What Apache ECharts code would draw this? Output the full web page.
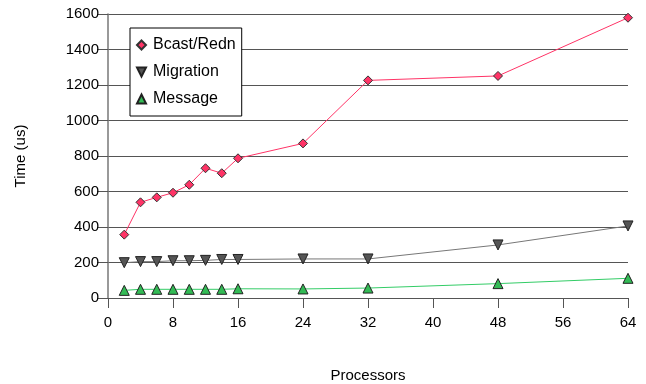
<!DOCTYPE html>
<html>
<head>
<meta charset="utf-8">
<script src="https://cdn.jsdelivr.net/npm/echarts@6/dist/echarts.min.js"></script>
<style>
  html, body { margin: 0; padding: 0; background: #fff; }
  #chart { width: 646px; height: 384px; }
</style>
</head>
<body>
<div id="chart"></div>
<script>
// processor counts
var processors = [2, 4, 6, 8, 10, 12, 14, 16, 24, 32, 48, 64];
var bcastRedn = [357, 539, 567, 593, 638, 731, 703, 787, 871, 1226, 1251, 1579];
var migration = [199, 205, 205, 210, 210, 212, 217, 217, 220, 220, 299, 406];
var message = [43, 49, 49, 49, 49, 49, 49, 52, 51, 56, 81, 111];

var downTri = 'path://M0,0 L10,0 L5,10 Z';

function pairs(ys) {
    return processors.map(function (x, i) { return [x, ys[i]]; });
}

var myChart = echarts.init(document.getElementById('chart'));
var font = 'Liberation Sans, Arial, sans-serif';

var option = {
    animation: false,
    textStyle: { fontFamily: font },
    grid: { left: 108, right: 18, top: 14, bottom: 86, outerBoundsMode: 'none', containLabel: false },
    legend: {
        orient: 'vertical',
        left: 130,
        top: 28,
        padding: [9, 6, 9, 6],
        itemGap: 11,
        itemWidth: 9,
        itemHeight: 9,
        borderColor: '#000',
        borderWidth: 1,
        backgroundColor: '#fff',
        textStyle: { fontSize: 16, color: '#000', fontFamily: font, padding: [0, 0, 0, 2] },
        data: [
            { name: 'Bcast/Redn', icon: 'diamond' },
            { name: 'Migration', icon: downTri },
            { name: 'Message', icon: 'triangle' }
        ]
    },
    xAxis: {
        type: 'value',
        min: 0,
        max: 64,
        interval: 8,
        name: 'Processors',
        nameLocation: 'middle',
        nameGap: 70,
        nameTextStyle: { fontSize: 15, color: '#000', fontFamily: font },
        axisLine: { show: false },
        axisTick: { show: true, length: 10, lineStyle: { color: '#555' } },
        axisLabel: { fontSize: 15, color: '#000', margin: 17, fontFamily: font },
        splitLine: { show: false }
    },
    yAxis: {
        type: 'value',
        min: 0,
        max: 1600,
        interval: 200,
        name: 'Time (us)',
        nameLocation: 'middle',
        nameGap: 80,
        nameTextStyle: { fontSize: 15, color: '#000', fontFamily: font },
        axisLine: { show: true, lineStyle: { color: '#777', width: 1.5 } },
        axisTick: { show: true, length: 11, lineStyle: { color: '#555' } },
        axisLabel: {
            fontSize: 15, color: '#000', margin: 9, fontFamily: font,
            formatter: function (v) { return String(v); }
        },
        splitLine: { show: true, lineStyle: { color: '#555', width: 1.2 } }
    },
    series: [
        {
            name: 'Bcast/Redn',
            type: 'line',
            data: pairs(bcastRedn),
            symbol: 'diamond',
            symbolSize: 9,
            itemStyle: { color: '#ff3366', borderColor: '#333', borderWidth: 1 },
            lineStyle: { color: '#ff3366', width: 1 }
        },
        {
            name: 'Migration',
            type: 'line',
            data: pairs(migration),
            symbol: downTri,
            symbolSize: 10,
            itemStyle: { color: '#555', borderColor: '#222', borderWidth: 1 },
            lineStyle: { color: '#777', width: 1 }
        },
        {
            name: 'Message',
            type: 'line',
            data: pairs(message),
            symbol: 'triangle',
            symbolSize: 10,
            itemStyle: { color: '#33bb55', borderColor: '#222', borderWidth: 1 },
            lineStyle: { color: '#33cc66', width: 1 }
        }
    ]
};

myChart.setOption(option);

window.addEventListener('resize', function () {
    myChart.resize();
}, false);
</script>
</body>
</html>
